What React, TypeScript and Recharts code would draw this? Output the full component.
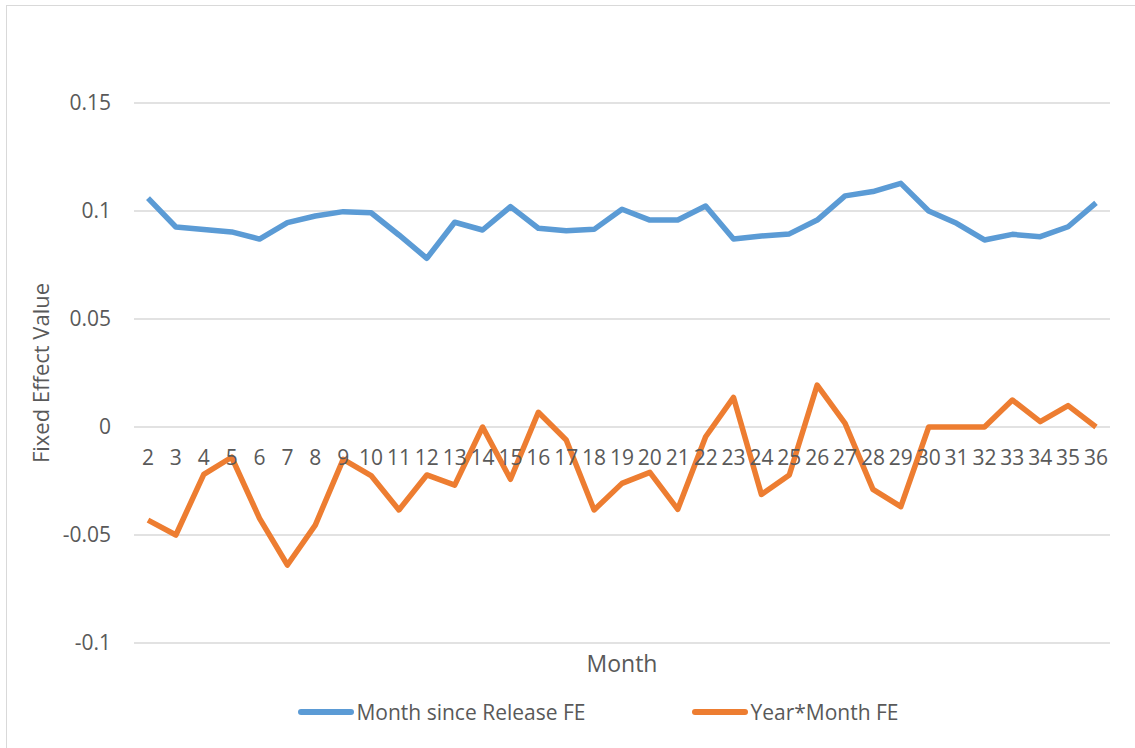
import React from "react";
import { CartesianGrid, Line, LineChart, XAxis, YAxis } from "recharts";

const months = [
  "2", "3", "4", "5", "6", "7", "8", "9", "10", "11", "12", "13", "14", "15", "16", "17", "18", "19",
  "20", "21", "22", "23", "24", "25", "26", "27", "28", "29", "30", "31", "32", "33", "34", "35", "36",
];

const monthSinceReleaseFE = [
  0.106, 0.0926, 0.0914, 0.0903, 0.087, 0.0946, 0.0977, 0.0997, 0.0992, 0.0889, 0.0781, 0.0948,
  0.0912, 0.102, 0.092, 0.0909, 0.0915, 0.1008, 0.0958, 0.0958, 0.1023, 0.087, 0.0884, 0.0894,
  0.0958, 0.107, 0.109, 0.1128, 0.1, 0.0943, 0.0866, 0.0892, 0.0881, 0.0927, 0.1038,
];

const yearMonthFE = [
  -0.0431, -0.05, -0.0219, -0.014, -0.0423, -0.0639, -0.0454, -0.015, -0.0225, -0.0384, -0.0222,
  -0.0269, 0, -0.0242, 0.0068, -0.006, -0.0384, -0.0261, -0.021, -0.0381, -0.0045, 0.0137, -0.0312,
  -0.0222, 0.0194, 0.0017, -0.0289, -0.0369, 0, 0, 0, 0.0125, 0.0025, 0.0099, 0,
];

const yTicks = [-0.1, -0.05, 0, 0.05, 0.1, 0.15];

const seriesNames = ["Month since Release FE", "Year*Month FE"];
const seriesColors = ["#5B9BD5", "#ED7D31"];

const data = months.map((m, i) => ({
  month: m,
  release: monthSinceReleaseFE[i],
  yearMonth: yearMonthFE[i],
}));

const W = 1135;
const H = 748;
const MARGIN = { top: 103, right: 25, bottom: 0, left: 0 };
const X_AXIS_H = 105;
const Y_AXIS_W = 134;
const FONT = "'Open Sans', 'Liberation Sans', sans-serif";
const TEXT = "#595959";

const plotH = H - MARGIN.top - MARGIN.bottom - X_AXIS_H;
const yMin = yTicks[0];
const yMax = yTicks[yTicks.length - 1];
// category labels sit just under the zero line, like Excel's "axis crosses at 0"
const zeroY = MARGIN.top + (plotH * (yMax - 0)) / (yMax - yMin);

function MonthTick(props: any) {
  const { x, payload } = props;
  return (
    <text
      x={x}
      y={zeroY + 38}
      textAnchor="middle"
      fill={TEXT}
      fontSize={21}
      fontFamily={FONT}
    >
      {payload.value}
    </text>
  );
}

export default function App() {
  return (
    <div style={{ position: "absolute", left: 0, top: 0, width: W, height: H, background: "#fff", overflow: "hidden" }}>
      <div
        style={{
          position: "absolute",
          left: 6,
          top: 5,
          width: W,
          height: H,
          border: "1px solid #d9d9d9",
        }}
      />
      <LineChart width={W} height={H} data={data} margin={MARGIN} style={{ position: "absolute", left: 0, top: 0 }}>
        <CartesianGrid vertical={false} stroke="#d9d9d9" strokeWidth={1.3} />
        <XAxis
          dataKey="month"
          height={X_AXIS_H}
          padding={{ left: 14, right: 14 }}
          axisLine={false}
          tickLine={false}
          interval={0}
          tick={<MonthTick />}
          label={{
            content: ({ viewBox }: any) => (
              <text
                x={viewBox.x + viewBox.width / 2}
                y={viewBox.y + 29}
                textAnchor="middle"
                fill={TEXT}
                fontSize={23}
                fontFamily={FONT}
              >
                Month
              </text>
            ),
          }}
        />
        <YAxis
          width={Y_AXIS_W}
          domain={[yMin, yMax]}
          ticks={yTicks}
          axisLine={false}
          tickLine={false}
          tickSize={0}
          tickMargin={23}
          tick={{ fill: TEXT, fontSize: 21, fontFamily: FONT }}
          label={{
            content: ({ viewBox }: any) => {
              const cx = 40;
              const cy = viewBox.y + viewBox.height / 2;
              return (
                <text
                  x={cx}
                  y={cy}
                  transform={`rotate(-90 ${cx} ${cy})`}
                  textAnchor="middle"
                  dominantBaseline="central"
                  fill={TEXT}
                  fontSize={22}
                  fontFamily={FONT}
                >
                  Fixed Effect Value
                </text>
              );
            },
          }}
        />
        <Line
          type="linear"
          dataKey="release"
          name={seriesNames[0]}
          stroke={seriesColors[0]}
          strokeWidth={5.5}
          strokeLinejoin="round"
          dot={false}
          isAnimationActive={false}
        />
        <Line
          type="linear"
          dataKey="yearMonth"
          name={seriesNames[1]}
          stroke={seriesColors[1]}
          strokeWidth={5.5}
          strokeLinejoin="round"
          dot={false}
          isAnimationActive={false}
        />
      </LineChart>
      <div
        style={{
          position: "absolute",
          left: 0,
          top: 698,
          width: W,
          display: "flex",
          justifyContent: "center",
          gap: 107,
          fontFamily: FONT,
          fontSize: 21,
          color: TEXT,
          paddingLeft: 62,
          boxSizing: "border-box",
        }}
      >
        {seriesNames.map((name, i) => (
          <div key={name} style={{ display: "flex", alignItems: "center" }}>
            <span
              style={{
                display: "inline-block",
                width: 56,
                height: 6,
                borderRadius: 3,
                background: seriesColors[i],
                marginRight: 2,
              }}
            />
            <span>{name}</span>
          </div>
        ))}
      </div>
    </div>
  );
}
